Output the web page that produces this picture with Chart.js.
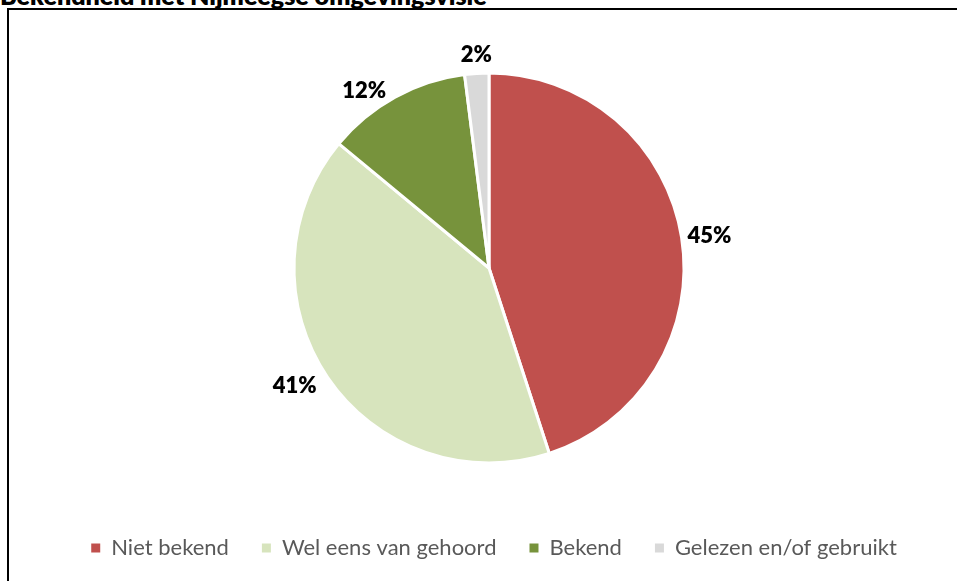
<!DOCTYPE html>
<html>
<head>
<meta charset="utf-8">
<script src="https://cdn.jsdelivr.net/npm/chart.js@4/dist/chart.umd.min.js"></script>
<style>
  html, body { margin: 0; padding: 0; background: #fff; overflow: hidden; }
  #wrap { position: relative; width: 957px; height: 581px; }
  #title {
    position: absolute; left: 0; top: -20px; line-height: 30px;
    font: 800 25px Lato, "Open Sans", sans-serif; color: #000; white-space: nowrap;
  }
  #frame {
    position: absolute; left: 7px; top: 8px; width: 1000px; height: 700px;
    border: 2px solid #000; box-sizing: border-box;
  }
  #chart { position: absolute; left: 0; top: 0; }
</style>
</head>
<body>
<div id="wrap">
  <div id="title">Bekendheid met Nijmeegse omgevingsvisie</div>
  <div id="frame"></div>
  <canvas id="chart" width="957" height="581"></canvas>
</div>
<script>
const categories = ['Niet bekend', 'Wel eens van gehoord', 'Bekend', 'Gelezen en/of gebruikt'];
const shares = [45, 41, 12, 2];
const sliceColors = ['#C0504D', '#D7E4BD', '#77933C', '#D9D9D9'];

// outside-end percentage labels, Excel style: side labels hang left/right of the anchor,
// near-vertical ones sit centred above/below it
const pctLabels = {
  id: 'pctLabels',
  afterDatasetsDraw(chart) {
    const ctx = chart.ctx;
    const meta = chart.getDatasetMeta(0);
    ctx.save();
    ctx.font = '800 22px Lato, "Open Sans", sans-serif';
    ctx.fillStyle = '#000';
    ctx.textBaseline = 'middle';
    meta.data.forEach((arc, i) => {
      const p = arc.getProps(['x', 'y', 'startAngle', 'endAngle', 'outerRadius'], true);
      const mid = (p.startAngle + p.endAngle) / 2;
      const c = Math.cos(mid), s = Math.sin(mid);
      const ax = p.x + c * (p.outerRadius + 6);
      const ay = p.y + s * (p.outerRadius + 6);
      const txt = shares[i] + '%';
      if (Math.abs(c) >= 0.3) {
        ctx.textAlign = c > 0 ? 'left' : 'right';
        ctx.fillText(txt, ax + (c > 0 ? 0 : -6), ay + (s > 0 ? 8 : 1) * s);
      } else {
        ctx.textAlign = 'center';
        ctx.fillText(txt, ax, ay + (s < 0 ? -12 : 12));
      }
    });
    ctx.restore();
  }
};

// nudge legend row a little right of the pie centre
const legendShift = {
  id: 'legendShift',
  afterLayout(chart) {
    if (chart.legend) { chart.legend.left += 5; chart.legend.right += 5; }
  }
};

new Chart(document.getElementById('chart').getContext('2d'), {
  type: 'pie',
  data: {
    labels: categories,
    datasets: [{
      data: shares,
      backgroundColor: sliceColors,
      borderColor: '#fff',
      borderWidth: 3,
      radius: 195
    }]
  },
  options: {
    responsive: false,
    animation: false,
    layout: { padding: { left: 21, right: 0, top: 32, bottom: 12 } },
    plugins: {
      tooltip: { enabled: false },
      legend: {
        position: 'bottom',
        labels: {
          boxWidth: 9,
          boxHeight: 9,
          padding: 33,
          color: '#595959',
          font: { family: 'Lato, "Open Sans", sans-serif', size: 22 },
          generateLabels(chart) {
            const items = Chart.controllers.pie.overrides.plugins.legend.labels.generateLabels(chart);
            items.forEach((it) => { it.lineWidth = 0; it.strokeStyle = 'rgba(0,0,0,0)'; });
            return items;
          }
        }
      }
    }
  },
  plugins: [pctLabels, legendShift]
});
</script>
</body>
</html>
